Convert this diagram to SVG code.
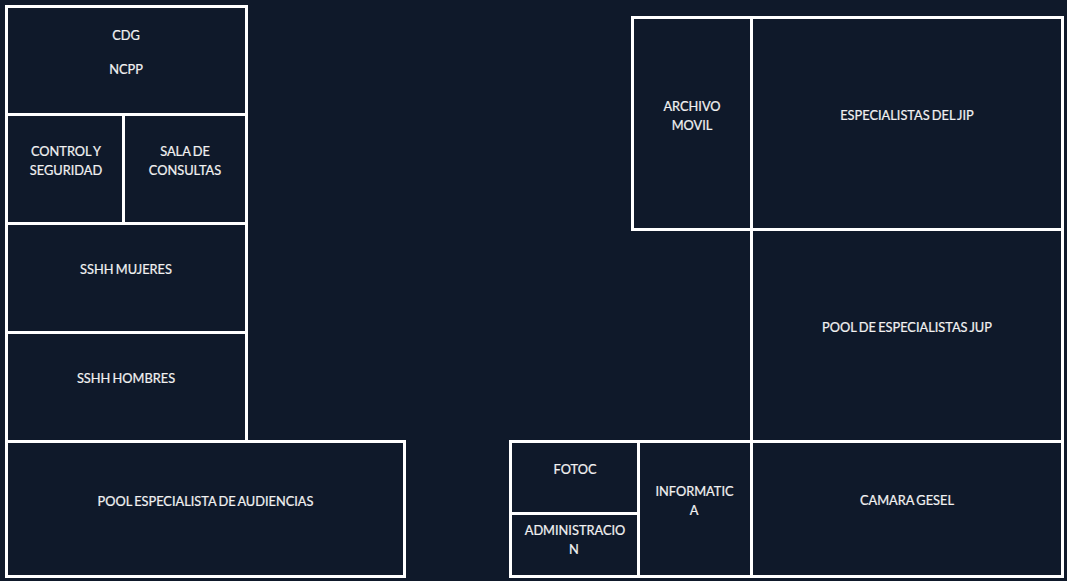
<svg xmlns="http://www.w3.org/2000/svg" width="1067" height="581" viewBox="0 0 1067 581">
<style>
.room{fill:#0f192a;stroke:#fff;stroke-width:3}
text{font-family:"Lato","Liberation Sans",sans-serif;font-size:12.8px;word-spacing:-1px;fill:#f2f2f2;stroke:#f2f2f2;stroke-width:.2px;text-anchor:middle}
</style>
<rect id="background" x="0" y="0" width="1067" height="581" fill="#0f192a"/>
<g id="cdg"><rect class="room" x="6.5" y="6.5" width="240" height="108"/><text x="126" y="40.300">CDG</text><text x="126" y="74.300">NCPP</text></g>
<g id="control"><rect class="room" x="6.5" y="114.5" width="117" height="109"/><text x="66" y="156.300">CONTROL Y</text><text x="66" y="175.300">SEGURIDAD</text></g>
<g id="sala"><rect class="room" x="123.5" y="114.5" width="123" height="109"/><text x="185" y="156.300">SALA DE</text><text x="185" y="175.300">CONSULTAS</text></g>
<g id="sshh-mujeres"><rect class="room" x="6.5" y="223.5" width="240" height="109"/><text x="126" y="274.300">SSHH MUJERES</text></g>
<g id="sshh-hombres"><rect class="room" x="6.5" y="332.5" width="240" height="109"/><text x="126" y="383.300">SSHH HOMBRES</text></g>
<g id="pool-audiencias"><rect class="room" x="6.5" y="441.5" width="398" height="135"/><text x="205.500" y="506.300">POOL ESPECIALISTA DE AUDIENCIAS</text></g>
<g id="archivo"><rect class="room" x="632.5" y="17.5" width="119" height="212"/><text x="692" y="111.300">ARCHIVO</text><text x="692" y="130.300">MOVIL</text></g>
<g id="especialistas-jip"><rect class="room" x="751.5" y="17.5" width="311" height="212"/><text x="907" y="120.300">ESPECIALISTAS DEL JIP</text></g>
<g id="pool-jup"><rect class="room" x="751.5" y="229.5" width="311" height="212"/><text x="907" y="332.300">POOL DE ESPECIALISTAS JUP</text></g>
<g id="fotoc"><rect class="room" x="510.5" y="441.5" width="128" height="72"/><text x="575" y="474.300">FOTOC</text></g>
<g id="administracion"><rect class="room" x="510.5" y="513.5" width="128" height="63"/><text x="575" y="535.300">ADMINISTRACIO</text><text x="574" y="554.300">N</text></g>
<g id="informatica"><rect class="room" x="638.5" y="441.5" width="113" height="135"/><text x="694.500" y="496.300">INFORMATIC</text><text x="694" y="515.300">A</text></g>
<g id="camara"><rect class="room" x="751.5" y="441.5" width="311" height="135"/><text x="907" y="505.300">CAMARA GESEL</text></g>
<g id="connectors"></g>
</svg>
